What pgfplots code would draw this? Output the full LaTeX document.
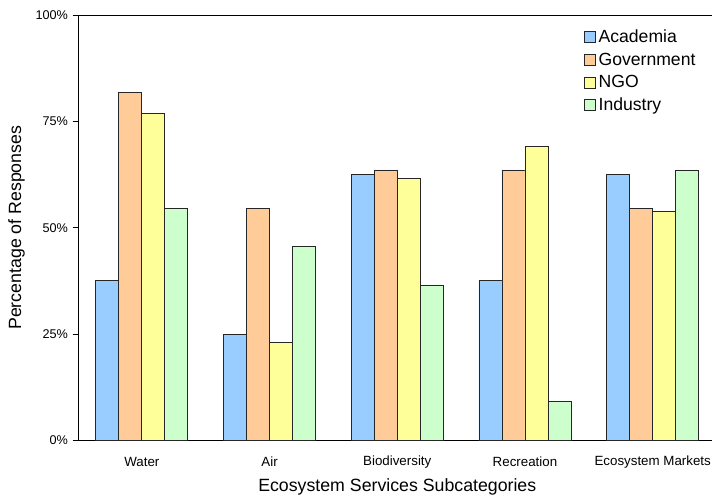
\documentclass[border=0pt]{standalone}
\usepackage{pgfplots}
\pgfplotsset{compat=1.18}
\usepackage{fontspec}
\setmainfont{Liberation Sans}
\definecolor{cA}{HTML}{99CCFF}
\definecolor{cG}{HTML}{FFCC99}
\definecolor{cN}{HTML}{FFFF99}
\definecolor{cI}{HTML}{CCFFCC}
\begin{document}
\begin{tikzpicture}
\useasboundingbox (-58.5pt,-41.8pt) rectangle (475.5pt,330.2pt);
\begin{axis}[
  at={(0,0)}, anchor=south west,
  scale only axis,
  width=478.9pt, height=318.75pt,
  ybar=0pt, bar width=17.25pt,
  xmin=-0.5, xmax=4.5, ymin=0, ymax=100,
  xtick={0,1,2,3,4},
  xticklabels={Water,Air,Biodiversity,Recreation,Ecosystem Markets},
  x tick label style={font=\fontsize{10}{11}\selectfont, anchor=center, yshift=-12pt},
  xtick pos=bottom,
  x tick style={draw=none},
  extra x ticks={0.5,1.5,2.5,3.5},
  extra x tick labels={},
  extra x tick style={major tick length=3.5pt, tick align=outside, tick style={draw=black, line width=0.6pt}},
  ytick={0,25,50,75,100},
  yticklabels={0\%,25\%,50\%,75\%,100\%},
  y tick label style={font=\fontsize{9.5}{10}\selectfont},
  ytick pos=left,
  tick align=outside,
  y tick style={draw=black, line width=0.6pt},
  major tick length=4pt,
  /pgf/number format/assume math mode=true,
  axis line style={line width=0.75pt, black},
  ylabel={Percentage of Responses},
  ylabel style={at={(axis description cs:-0.0963,0.5)}, anchor=center, font=\fontsize{13.3}{15}\selectfont},
  xlabel={Ecosystem Services Subcategories},
  xlabel style={at={(axis description cs:0.5,-0.109)}, anchor=center, font=\fontsize{13.3}{15}\selectfont},
  legend style={at={(0.786,0.979)}, anchor=north west, draw=none, fill=none,
    font=\fontsize{13.2}{15}\selectfont, row sep=2.2pt},
  legend cell align=left,
  legend image code/.code={\draw[#1] (0pt,-4.1pt) rectangle (8.25pt,4.1pt);},
  every axis plot/.append style={draw=black!85, line width=0.6pt},
]
\addplot[fill=cA] coordinates {(0,37.5) (1,25.0) (2,62.5) (3,37.5) (4,62.5)};
\addplot[fill=cG] coordinates {(0,81.8) (1,54.5) (2,63.6) (3,63.6) (4,54.5)};
\addplot[fill=cN] coordinates {(0,76.9) (1,23.1) (2,61.5) (3,69.2) (4,53.8)};
\addplot[fill=cI] coordinates {(0,54.5) (1,45.5) (2,36.4) (3,9.1) (4,63.6)};
\legend{Academia,Government,NGO,Industry}
\end{axis}
\end{tikzpicture}
\end{document}
